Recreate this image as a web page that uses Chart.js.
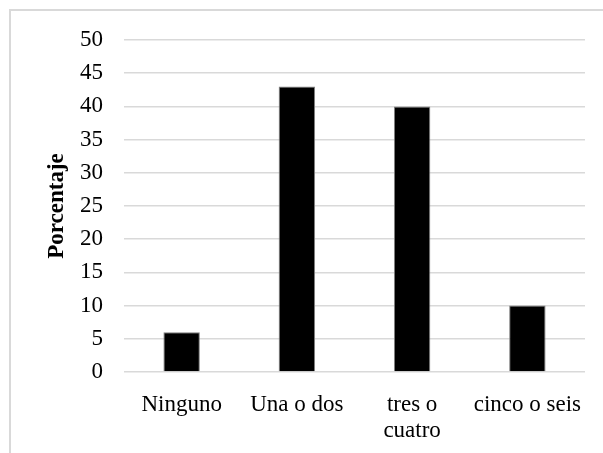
<!DOCTYPE html>
<html>
<head>
<meta charset="utf-8">
<script src="https://cdn.jsdelivr.net/npm/chart.js@4/dist/chart.umd.min.js"></script>
<style>
  html, body { margin: 0; padding: 0; background: #ffffff; overflow: hidden; }
  body { width: 603px; height: 453px; position: relative; }
  #frame {
    position: absolute; left: 9px; top: 9px;
    width: 700px; height: 600px;
    border: 2px solid #d9d9d9; box-sizing: border-box;
  }
  #wrap { position: absolute; left: 0; top: 0; width: 603px; height: 453px; }
</style>
</head>
<body>
<div id="frame"></div>
<div id="wrap"><canvas id="chart" width="603" height="453"></canvas></div>
<script>
// Number of items per respondent, share in percent
const categories = ["Ninguno", "Una o dos", ["tres o", "cuatro"], "cinco o seis"];
const percentages = [6, 43, 40, 10];
const yTicks = [0, 5, 10, 15, 20, 25, 30, 35, 40, 45, 50];
const yTitle = "Porcentaje";

const serif = "'Liberation Serif', 'Times New Roman', Times, serif";

new Chart(document.getElementById("chart"), {
  type: "bar",
  data: {
    labels: categories,
    datasets: [{
      data: percentages,
      backgroundColor: "#000000",
      borderColor: "#7f7f7f",
      borderWidth: 1,
      barPercentage: 0.316,
      categoryPercentage: 1
    }]
  },
  options: {
    responsive: false,
    animation: false,
    layout: { padding: { left: 0, right: 18, top: 40, bottom: 0 } },
    plugins: { legend: { display: false }, tooltip: { enabled: false } },
    scales: {
      x: {
        grid: { display: false, drawTicks: false },
        border: { display: false },
        ticks: {
          color: "#000000",
          font: { family: serif, size: 23, lineHeight: 1.17 },
          padding: 19,
          maxRotation: 0,
          autoSkip: false
        },
        afterFit: (scale) => { scale.height = 81; }
      },
      y: {
        min: 0,
        max: 50,
        afterBuildTicks: (scale) => { scale.ticks = yTicks.map(v => ({ value: v })); },
        grid: { color: "#d9d9d9", lineWidth: 1.5, drawTicks: false },
        border: { display: false },
        ticks: {
          color: "#000000",
          font: { family: serif, size: 23 },
          padding: 21
        },
        title: {
          display: true,
          text: yTitle,
          color: "#000000",
          font: { family: serif, size: 23, weight: "bold" },
          padding: { top: 43, bottom: 0 }
        },
        afterFit: (scale) => { scale.width = 124; }
      }
    }
  }
});
</script>
</body>
</html>
